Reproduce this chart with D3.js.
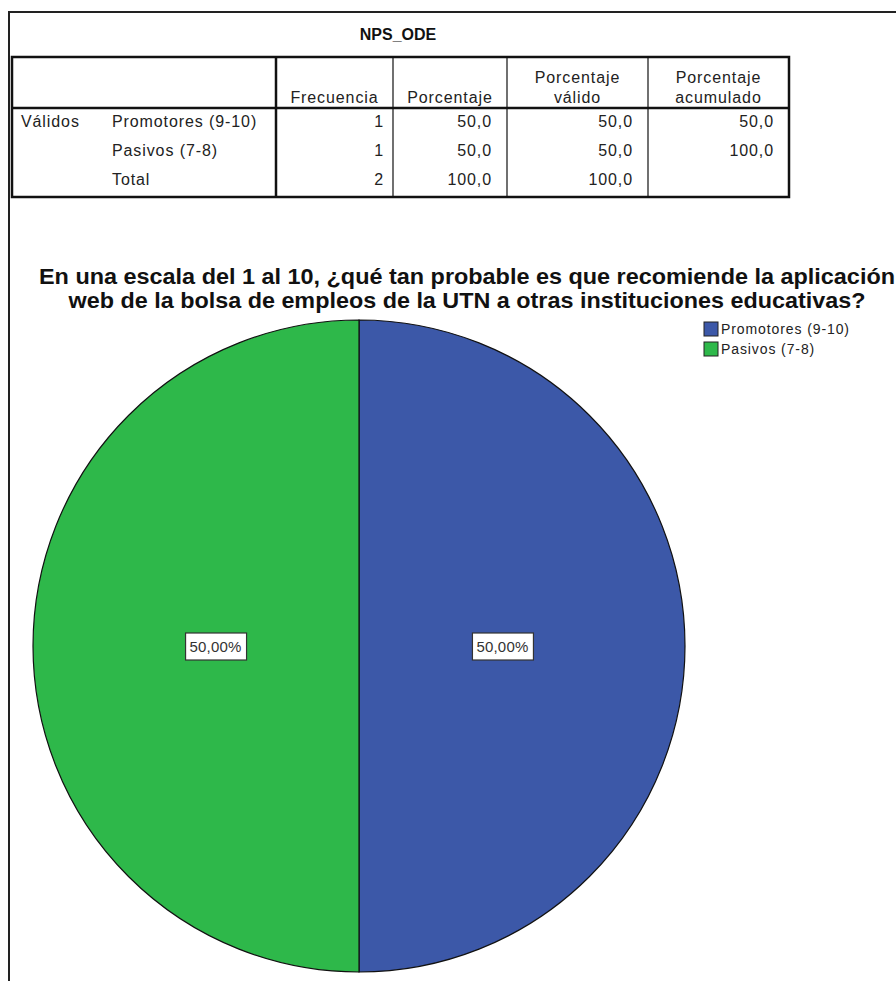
<!DOCTYPE html>
<html>
<head>
<meta charset="utf-8">
<script src="https://cdn.jsdelivr.net/npm/d3@7"></script>
<style>
  body { margin: 0; background: #fff; }
  svg { display: block; font-family: "Liberation Sans", Arial, sans-serif; }
</style>
</head>
<body>
<div id="chart"></div>
<script>
// table + pie data
const categories = ["Promotores (9-10)", "Pasivos (7-8)"];
const frecuencia = [1, 1];
const porcentaje = [50.0, 50.0];
const porcentajeValido = [50.0, 50.0];
const porcentajeAcumulado = [50.0, 100.0];
const totalRow = ["Total", 2, 100.0, 100.0, null];
const headers = [["Frecuencia"], ["Porcentaje"], ["Porcentaje", "válido"], ["Porcentaje", "acumulado"]];
const colors = ["#3c58a8", "#2eb84a"];

const width = 896, height = 981;
const fmt1 = v => v == null ? "" : d3.format(".1f")(v).replace(".", ",");

const svg = d3.select("#chart").append("svg")
  .attr("width", width)
  .attr("height", height);

// outer frame (left + top)
svg.append("path")
  .attr("d", "M9,981 L9,12 L896,12")
  .attr("fill", "none").attr("stroke", "#222").attr("stroke-width", 2);

// ---- table ----
svg.append("text")
  .attr("x", 398).attr("y", 40)
  .attr("text-anchor", "middle")
  .attr("font-weight", "bold").attr("font-size", 16)
  .attr("fill", "#111")
  .text("NPS_ODE");

const colX = [12, 276, 393, 507, 648, 789];
const tTop = 57, hBottom = 108, tBottom = 197;
const rowY = [127, 156, 185];

const tbl = svg.append("g")
  .attr("font-size", 16)
  .attr("letter-spacing", 0.9)
  .attr("fill", "#222");
tbl.append("rect")
  .attr("x", colX[0]).attr("y", tTop)
  .attr("width", colX[5] - colX[0]).attr("height", tBottom - tTop)
  .attr("fill", "none").attr("stroke", "#111").attr("stroke-width", 2.5);
tbl.append("line")
  .attr("x1", colX[0]).attr("x2", colX[5]).attr("y1", hBottom).attr("y2", hBottom)
  .attr("stroke", "#111").attr("stroke-width", 2.5);
colX.slice(1, 5).forEach((x, i) => {
  tbl.append("line")
    .attr("x1", x).attr("x2", x).attr("y1", tTop).attr("y2", tBottom)
    .attr("stroke", "#111").attr("stroke-width", i === 0 ? 2.5 : 1.2);
});

headers.forEach((lines, i) => {
  const cx = (colX[i + 1] + colX[i + 2]) / 2;
  lines.forEach((t, j) => {
    tbl.append("text")
      .attr("x", cx)
      .attr("y", 103 - (lines.length - 1 - j) * 20)
      .attr("text-anchor", "middle")
      .text(t);
  });
});

tbl.append("text").attr("x", 21).attr("y", rowY[0]).text("Válidos");

const rows = categories.map((c, i) => [c, frecuencia[i], porcentaje[i], porcentajeValido[i], porcentajeAcumulado[i]]);
rows.push(totalRow);
rows.forEach((r, i) => {
  tbl.append("text").attr("x", 112).attr("y", rowY[i]).text(r[0]);
  tbl.append("text").attr("x", colX[2] - 9).attr("y", rowY[i])
    .attr("text-anchor", "end").text(r[1]);
  [2, 3, 4].forEach(k => {
    tbl.append("text").attr("x", colX[k + 1] - 15).attr("y", rowY[i])
      .attr("text-anchor", "end").text(fmt1(r[k]));
  });
});

// ---- pie chart ----
const title = [
  "En una escala del 1 al 10, ¿qué tan probable es que recomiende la aplicación",
  "web de la bolsa de empleos de la UTN a otras instituciones educativas?"
];
const titleLen = [856, 797];
title.forEach((t, i) => {
  svg.append("text")
    .attr("x", 467).attr("y", 284 + i * 24)
    .attr("text-anchor", "middle")
    .attr("font-weight", "bold").attr("font-size", 22).attr("fill", "#111")
    .attr("textLength", titleLen[i]).attr("lengthAdjust", "spacingAndGlyphs")
    .text(t);
});

const cx = 359, cy = 646, radius = 326;
const pie = d3.pie().sort(null).value(d => d.value);
const pieData = pie(categories.map((c, i) => ({ key: c, value: frecuencia[i] })));
const color = d3.scaleOrdinal().domain(categories).range(colors);

const g = svg.append("g").attr("transform", `translate(${cx},${cy})`);
g.selectAll("path.slice")
  .data(pieData)
  .enter().append("path")
  .attr("class", "slice")
  .attr("d", d3.arc().innerRadius(0).outerRadius(radius))
  .attr("fill", d => color(d.data.key))
  .attr("stroke", "#111")
  .attr("stroke-width", 1.2);

const labelArc = d3.arc().innerRadius(radius * 0.44).outerRadius(radius * 0.44);
const total = d3.sum(frecuencia);
const lbl = g.selectAll("g.lbl")
  .data(pieData)
  .enter().append("g")
  .attr("class", "lbl")
  .attr("transform", d => "translate(" + labelArc.centroid(d) + ")");
lbl.append("rect")
  .attr("x", -30).attr("y", -13).attr("width", 61).attr("height", 27)
  .attr("fill", "#fff").attr("stroke", "#333").attr("stroke-width", 1.2);
lbl.append("text")
  .attr("y", 6)
  .attr("text-anchor", "middle")
  .attr("font-size", 15).attr("letter-spacing", 0.2).attr("fill", "#333")
  .text(d => d3.format(".2f")(d.data.value / total * 100).replace(".", ",") + "%");

// legend
const legend = svg.selectAll("g.legend")
  .data(categories)
  .enter().append("g")
  .attr("class", "legend")
  .attr("transform", (d, i) => `translate(704,${322 + i * 20})`);
legend.append("rect")
  .attr("width", 14).attr("height", 14)
  .attr("fill", d => color(d)).attr("stroke", "#222").attr("stroke-width", 1);
legend.append("text")
  .attr("x", 17).attr("y", 12)
  .attr("font-size", 14).attr("letter-spacing", 0.9).attr("fill", "#222")
  .text(d => d);
</script>
</body>
</html>
